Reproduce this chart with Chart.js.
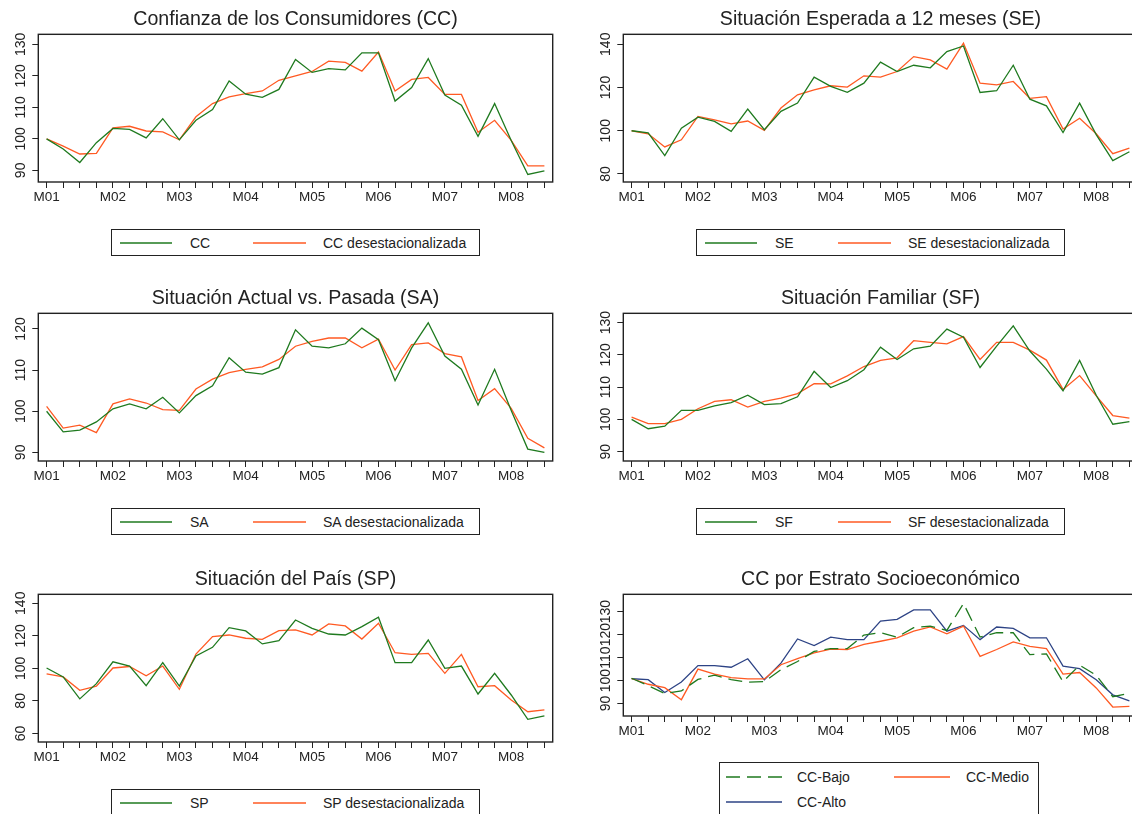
<!DOCTYPE html>
<html><head><meta charset="utf-8">
<script src="https://cdn.jsdelivr.net/npm/chart.js@4.4.1/dist/chart.umd.min.js"></script>
<style>
html,body{margin:0;padding:0;background:#fff;overflow:hidden;width:1132px;height:814px;}
#root{position:relative;width:1132px;height:814px;overflow:hidden;background:#fff;}
canvas{position:absolute;}
.leg{position:absolute;border:1.3px solid #222;box-sizing:border-box;font-family:"Liberation Sans",Arial,sans-serif;font-size:14px;color:#222;background:#fff;}
.leg span{position:absolute;white-space:nowrap;line-height:16px;}
.leg svg{position:absolute;overflow:visible;}
</style></head><body><div id="root"></div>
<script>
// ---- data ----
const tickLabels = ['M01','M02','M03','M04','M05','M06','M07','M08'];
const categories = ['M01','','','','M02','','','','M03','','','','M04','','','','M05','','','','M06','','','','M07','','','','M08','',''];

const cc    = [100,96.8,92.5,98.8,103.3,103,100.3,106.4,99.7,105.9,109.3,118.4,114.2,113.2,115.7,125.2,121.1,122.3,121.9,127.3,127.3,112,116.3,125.5,113.9,110.7,100.8,111.2,99.5,88.7,89.8];
const ccDes = [100,97.7,95.2,95.4,103.5,104,102.5,102.2,99.7,107,111.2,113.3,114.4,115.2,118.6,120,121.4,124.7,124.3,121.5,127.6,115.2,118.9,119.5,114.1,114.1,102.1,105.9,99.5,91.4,91.4];

const se    = [100,99,88.5,101.2,106.3,104.3,99.7,110,100.5,109,112.8,124.8,120.5,117.8,122,131.7,127.4,130.3,129.1,136.6,139.2,117.7,118.5,130.3,114.6,111.5,99.2,112.8,98.2,86.2,90.3];
const seDes = [100,98.6,92.5,95.8,106.6,105,103.2,104.5,100.2,110.5,116.6,118.9,120.8,120.2,125.4,124.8,127.4,134.3,132.8,128.5,140.5,122,121.2,122.8,115,115.8,100.8,105.8,98.6,89.4,92];

const sa    = [100,95,95.4,97.4,100.6,101.8,100.6,103.4,99.6,103.8,106.2,113,109.5,109,110.6,119.8,115.8,115.4,116.4,120.2,117.4,107.4,115.4,121.5,113.4,110.2,101.5,110.2,100.2,90.8,90];
const saDes = [101.2,95.9,96.6,94.8,101.8,103,102,100.4,100.2,105.4,107.8,109.4,110.2,110.8,112.6,115.8,117,117.8,117.8,115.4,117.5,110,116.2,116.6,114,113.2,102.6,105.5,100.7,93.4,91.1];

const sf    = [100,97.1,97.9,102.8,102.8,104.2,105.2,107.5,104.6,104.9,107,114.9,109.9,112,115.4,122.4,118.6,121.9,122.7,128,125.5,116.1,122.7,129,121.2,115.6,108.9,118.3,107.5,98.5,99.3];
const sfDes = [100.7,98.7,98.7,100,103.3,105.6,106.1,103.8,105.6,106.6,108,111.1,111,113.5,116.4,118.3,119.1,124.4,123.9,123.4,125.7,118.6,123.9,123.9,121.5,118.4,109.3,113.6,107.3,101.2,100.4];

const sp    = [100.2,94.7,81.2,90.6,104,101.4,89.3,103.5,89.1,107.6,112.9,125,123,115,117,129.7,124.6,121.1,120.5,125.6,131.4,103.5,103.5,117.4,100,101.4,84.2,96.9,83.6,68.6,70.7];
const spDes = [96.6,94.7,86.5,89,100.2,101.1,95.4,101.4,87.1,108.8,119.5,120.5,118.5,117.8,123.2,123.6,120.5,127.3,126.1,118,127.7,109.6,108.6,109.2,96.9,108.6,88.7,89.3,80.5,73.3,74.4];

const ccBajo  = [101,97.8,94.4,95.5,100.5,102.4,100.4,99.3,99.6,104.7,108.3,112.7,113.9,113.9,119.8,120.8,118.9,123,123.7,121.8,133.5,118.9,120.8,120.8,111.3,111.6,99.5,106.7,102.3,93,94.5];
const ccMedio = [100.9,98.4,96.9,91.7,105,102.8,101.3,100.7,100.7,106.9,109.5,112,113.7,113.5,115.7,117.1,118.6,121.5,123.3,120.3,123.7,110.5,113.5,116.8,114.9,113.9,102.8,103.5,96.8,88.5,88.8];
const ccAlto  = [100.8,100.4,94.8,99.4,106.5,106.5,105.8,109.5,100.3,107.6,118.1,115.2,118.9,117.8,117.8,125.9,126.6,130.7,130.7,121.5,124,117.8,123.3,122.7,118.6,118.6,106.3,105.2,100.4,93.8,91.2];

const yTicksCC = [90,100,110,120,130];
const yTicksSE = [80,100,120,140];
const yTicksSA = [90,100,110,120];
const yTicksSF = [90,100,110,120,130];
const yTicksSP = [60,80,100,120,140];
const yTicksEst = [90,100,110,120,130];

// ---- styles ----
const GREEN = '#1f7a1f', ORANGE = '#ff5a23', NAVY = '#2d4385';
const FONT = '"Liberation Sans", Arial, sans-serif';
const INK = '#222';
const root = document.getElementById('root');

const boxPlugin = {
  id: 'boxPlugin',
  afterDraw(chart) {
    const ctx = chart.ctx, a = chart.chartArea, ys = chart.scales.y;
    ctx.save();
    ctx.strokeStyle = INK; ctx.lineWidth = 1.4;
    ctx.strokeRect(a.left, a.top, a.right - a.left, a.bottom - a.top);
    ctx.fillStyle = INK;
    ctx.font = '14px ' + FONT;
    ctx.textAlign = 'center'; ctx.textBaseline = 'middle';
    ys.ticks.forEach(t => {
      const py = ys.getPixelForValue(t.value);
      ctx.save();
      ctx.translate(a.left - 17, py);
      ctx.rotate(-Math.PI / 2);
      ctx.fillText(t.label != null ? String(t.label) : String(t.value), 0, 0);
      ctx.restore();
    });
    ctx.restore();
  }
};

function makeChart(p) {
  const c = document.createElement('canvas');
  c.width = 591; c.height = p.h;
  c.style.left = p.left + 'px'; c.style.top = p.top + 'px';
  c.style.width = '591px'; c.style.height = p.h + 'px';
  root.appendChild(c);
  new Chart(c, {
    type: 'line',
    data: {
      labels: categories,
      datasets: p.series.map(s => ({
        label: s.label, data: s.data, borderColor: s.color, backgroundColor: s.color,
        borderWidth: 1.3, borderDash: s.dash || [], pointRadius: 0, tension: 0, fill: false, yAxisID: 'y'
      }))
    },
    options: {
      responsive: false, animation: false, devicePixelRatio: 1,
      layout: { padding: 0 },
      plugins: {
        legend: { display: false }, tooltip: { enabled: false },
        title: { display: true, text: p.title, color: INK,
          font: { family: FONT, size: 19.6, weight: 'normal' }, padding: { top: 8, bottom: 2.8 } }
      },
      scales: {
        x: {
          type: 'category', offset: true,
          grid: { display: true, drawOnChartArea: false, drawTicks: true, tickLength: 6, color: INK, lineWidth: 1 },
          border: { display: false },
          ticks: { autoSkip: false, maxRotation: 0, minRotation: 0, padding: 1, color: INK, font: { family: FONT, size: 13.5 } },
          afterFit(s) { s.height = 30; }
        },
        y: {
          type: 'linear', position: 'left', min: p.yMin, max: p.yMax,
          grid: { display: true, drawOnChartArea: false, drawTicks: true, tickLength: 6, color: INK, lineWidth: 1 },
          border: { display: false },
          ticks: { display: false },
          afterBuildTicks(s) { s.ticks = p.yTicks.map(v => ({ value: v })); },
          afterFit(s) { s.width = 38.3; }
        },
        yPad: {
          type: 'linear', position: 'right', display: true,
          grid: { display: false }, border: { display: false }, ticks: { display: false },
          afterFit(s) { s.width = 38.3; }
        }
      }
    },
    plugins: [boxPlugin]
  });
}

function makeLegend(l) {
  const d = document.createElement('div');
  d.className = 'leg';
  d.style.left = l.left + 'px'; d.style.top = l.top + 'px';
  d.style.width = l.w + 'px'; d.style.height = l.h + 'px';
  l.items.forEach(it => {
    const svg = document.createElementNS('http://www.w3.org/2000/svg', 'svg');
    svg.setAttribute('width', it.sw); svg.setAttribute('height', 4);
    svg.style.left = it.sx + 'px'; svg.style.top = (it.cy - 2) + 'px';
    const ln = document.createElementNS('http://www.w3.org/2000/svg', 'line');
    ln.setAttribute('x1', 0); ln.setAttribute('y1', 2); ln.setAttribute('x2', it.sw); ln.setAttribute('y2', 2);
    ln.setAttribute('stroke', it.color); ln.setAttribute('stroke-width', 1.5);
    if (it.dash) ln.setAttribute('stroke-dasharray', it.dash.join(' '));
    svg.appendChild(ln); d.appendChild(svg);
    const sp = document.createElement('span');
    sp.textContent = it.text;
    sp.style.left = it.tx + 'px'; sp.style.top = (it.cy - 8) + 'px';
    d.appendChild(sp);
  });
  root.appendChild(d);
}

function twoItems(a, b) {
  return [
    { text: a.label, color: a.color, sx: 8, sw: 52, tx: 78, cy: 12.5 },
    { text: b.label, color: b.color, sx: 141, sw: 53, tx: 211, cy: 12.5 }
  ];
}

const panels = [
  { title: 'Confianza de los Consumidores (CC)', left: 0, top: 0, h: 212, yMin: 86.3, yMax: 133.2, yTicks: yTicksCC,
    series: [{ label: 'CC', data: cc, color: GREEN }, { label: 'CC desestacionalizada', data: ccDes, color: ORANGE }],
    legend: { left: 111, top: 229, w: 369, h: 27 } },
  { title: 'Situación Esperada a 12 meses (SE)', left: 585, top: 0, h: 212, yMin: 76.3, yMax: 144.6, yTicks: yTicksSE,
    series: [{ label: 'SE', data: se, color: GREEN }, { label: 'SE desestacionalizada', data: seDes, color: ORANGE }],
    legend: { left: 696, top: 229, w: 369, h: 27 } },
  { title: 'Situación Actual vs. Pasada (SA)', left: 0, top: 279, h: 212, yMin: 87.9, yMax: 123.8, yTicks: yTicksSA,
    series: [{ label: 'SA', data: sa, color: GREEN }, { label: 'SA desestacionalizada', data: saDes, color: ORANGE }],
    legend: { left: 111, top: 508, w: 369, h: 27 } },
  { title: 'Situación Familiar (SF)', left: 585, top: 279, h: 212, yMin: 87.1, yMax: 132.9, yTicks: yTicksSF,
    series: [{ label: 'SF', data: sf, color: GREEN }, { label: 'SF desestacionalizada', data: sfDes, color: ORANGE }],
    legend: { left: 696, top: 508, w: 369, h: 27 } },
  { title: 'Situación del País (SP)', left: 0, top: 560, h: 212, yMin: 54.7, yMax: 145.5, yTicks: yTicksSP,
    series: [{ label: 'SP', data: sp, color: GREEN }, { label: 'SP desestacionalizada', data: spDes, color: ORANGE }],
    legend: { left: 111, top: 789, w: 369, h: 27 } },
  { title: 'CC por Estrato Socioeconómico', left: 585, top: 560, h: 186, yMin: 84.6, yMax: 137.5, yTicks: yTicksEst,
    series: [{ label: 'CC-Bajo', data: ccBajo, color: GREEN, dash: [14, 7] },
             { label: 'CC-Medio', data: ccMedio, color: ORANGE },
             { label: 'CC-Alto', data: ccAlto, color: NAVY }],
    legend: null }
];

panels.forEach(p => {
  makeChart(p);
  if (p.legend) {
    const l = Object.assign({}, p.legend, { items: twoItems(p.series[0], p.series[1]) });
    makeLegend(l);
  }
});

makeLegend({ left: 719, top: 762, w: 320, h: 60, items: [
  { text: 'CC-Bajo', color: GREEN, dash: [14, 7], sx: 6, sw: 57, tx: 77, cy: 13.5 },
  { text: 'CC-Medio', color: ORANGE, sx: 174, sw: 56, tx: 246, cy: 13.5 },
  { text: 'CC-Alto', color: NAVY, sx: 6, sw: 56, tx: 77, cy: 39 }
] });
</script></body></html>
